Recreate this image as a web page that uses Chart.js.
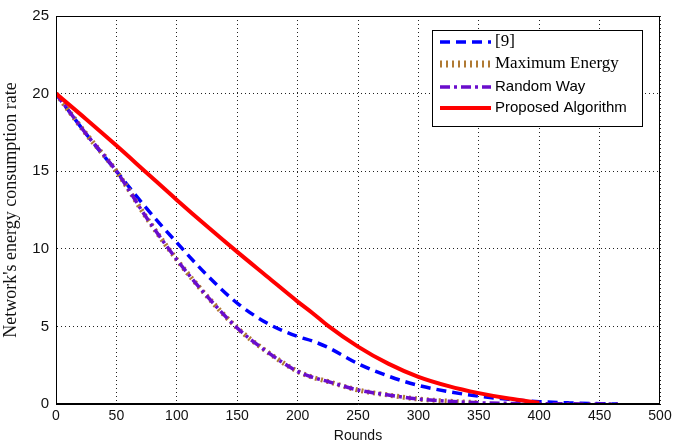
<!DOCTYPE html>
<html>
<head>
<meta charset="utf-8">
<title>Network energy consumption</title>
<script src="https://cdn.jsdelivr.net/npm/chart.js@4/dist/chart.umd.min.js"></script>
<style>
  html, body { margin: 0; padding: 0; background: #fff; }
  canvas { display: block; }
</style>
</head>
<body>
<canvas id="energy-chart" width="689" height="448"></canvas>
<script>
(function () {
  "use strict";

  // --- Data ---

  var rounds = [0, 25, 50, 75, 100, 125, 150, 175, 200, 212.5, 225, 250, 275,
    300, 325, 350, 375, 400, 425, 450, 465];

  var ref9 = [20, 17.4, 15.0, 12.6, 10.4, 8.3, 6.5, 5.2, 4.35, 4.05, 3.65,
    2.6, 1.8, 1.2, 0.8, 0.5, 0.3, 0.15, 0.07, 0.02, 0];

  var maxEnergy = [20, 17.4, 15.0, 12.0, 9.3, 6.95, 4.9, 3.35, 2.1, 1.72,
    1.45, 0.9, 0.58, 0.32, 0.18, 0.08, null, null, null, null, null];

  var randomWay = [20, 17.4, 15.0, 12.0, 9.3, 6.95, 4.9, 3.35, 2.1, 1.72,
    1.45, 0.9, 0.58, 0.32, 0.18, 0.08, 0.04, 0.02, 0.01, 0, 0];

  var proposed = [20, 18.35, 16.65, 14.9, 13.15, 11.45, 9.8, 8.2, 6.6, 5.85,
    5.05, 3.7, 2.6, 1.75, 1.15, 0.7, 0.35, 0.08, null, null, null];

  var xTicks = [0, 50, 100, 150, 200, 250, 300, 350, 400, 450, 500];
  var yTicks = [0, 5, 10, 15, 20, 25];

  var seriesNames = ["[9]", "Maximum Energy", "Random Way", "Proposed Algorithm"];

  function toPoints(values) {
    return rounds.map(function (r, i) {
      return { x: r, y: values[i] };
    });
  }

  var SANS = "'Liberation Sans', Arial, sans-serif";
  var SERIF = "'Liberation Serif', 'Times New Roman', serif";

  var styles = [
    { color: "#0000ff", width: 3.5, dash: [10, 6], font: "17px " + SERIF },
    { color: "#b07a34", width: 5, dash: [2, 4], font: "17px " + SERIF },
    { color: "#6a0dcc", width: 3.5, dash: [10, 4, 3, 4], font: "15px " + SANS },
    { color: "#ff0000", width: 4, dash: [], font: "15px " + SANS },
  ];

  function makeDataset(idx, values, order) {
    var s = styles[idx];
    return {
      label: seriesNames[idx],
      data: toPoints(values),
      borderColor: s.color,
      backgroundColor: s.color,
      borderWidth: s.width,
      borderDash: s.dash,
      borderCapStyle: "butt",
      pointRadius: 0,
      fill: false,
      spanGaps: false,
      cubicInterpolationMode: "monotone",
      order: order,
    };
  }

  // --- Box + legend (MATLAB style) ---

  var boxAndLegend = {
    id: "boxAndLegend",
    afterDatasetsDraw: function (chart) {
      var ctx = chart.ctx;
      var a = chart.chartArea;
      ctx.save();
      ctx.strokeStyle = "#000";
      ctx.lineWidth = 1;
      ctx.setLineDash([]);
      ctx.strokeRect(a.left + 0.5, a.top + 0.5, a.right - a.left - 1, a.bottom - a.top - 1);

      var bx = 432, by = 30, bw = 210, bh = 96;
      ctx.fillStyle = "#fff";
      ctx.fillRect(bx, by, bw, bh);
      ctx.strokeRect(bx + 0.5, by + 0.5, bw, bh);

      var rowY = [42, 64, 87, 108];
      for (var i = 0; i < styles.length; i++) {
        var s = styles[i];
        ctx.beginPath();
        ctx.strokeStyle = s.color;
        ctx.lineWidth = i === 1 ? 7 : s.width;
        ctx.lineCap = "butt";
        ctx.setLineDash(s.dash);
        ctx.moveTo(440, rowY[i]);
        ctx.lineTo(491, rowY[i]);
        ctx.stroke();
        ctx.setLineDash([]);
        ctx.fillStyle = "#000";
        ctx.font = s.font;
        ctx.textBaseline = "middle";
        ctx.textAlign = "left";
        ctx.fillText(seriesNames[i], 495, rowY[i]);
      }
      ctx.restore();
    },
  };

  // --- Chart ---

  var canvas = document.getElementById("energy-chart");

  new Chart(canvas, {
    type: "line",
    data: {
      datasets: [
        makeDataset(0, ref9, 3),
        makeDataset(1, maxEnergy, 2),
        makeDataset(2, randomWay, 1),
        makeDataset(3, proposed, 0),
      ],
    },
    options: {
      responsive: false,
      animation: false,
      layout: { padding: { top: 14, right: 29, left: 0, bottom: 0 } },
      plugins: {
        legend: { display: false },
        tooltip: { enabled: false },
      },
      scales: {
        x: {
          type: "linear",
          min: 0,
          max: 500,
          afterBuildTicks: function (scale) {
            scale.ticks = xTicks.map(function (v) { return { value: v }; });
          },
          afterFit: function (scale) { scale.height = 44; },
          ticks: { color: "#111", font: { family: SANS, size: 14 }, padding: 4, maxRotation: 0 },
          grid: { color: "#222", lineWidth: 1, drawTicks: false },
          border: { display: true, color: "#000", dash: [1, 3] },
          title: {
            display: true,
            text: "Rounds",
            color: "#111",
            font: { family: SANS, size: 14 },
            padding: { top: 0, bottom: 3 },
          },
        },
        y: {
          type: "linear",
          min: 0,
          max: 25,
          afterBuildTicks: function (scale) {
            scale.ticks = yTicks.map(function (v) { return { value: v }; });
          },
          afterFit: function (scale) { scale.width = 56; },
          ticks: { color: "#111", font: { family: SANS, size: 15 }, padding: 7 },
          grid: { color: "#222", lineWidth: 1, drawTicks: false },
          border: { display: true, color: "#000", dash: [1, 3] },
          title: {
            display: true,
            text: "Network's energy consumption rate",
            color: "#111",
            font: { family: SERIF, size: 18 },
            padding: { top: 0, bottom: 7 },
          },
        },
      },
    },
    plugins: [boxAndLegend],
  });
})();
</script>
</body>
</html>
